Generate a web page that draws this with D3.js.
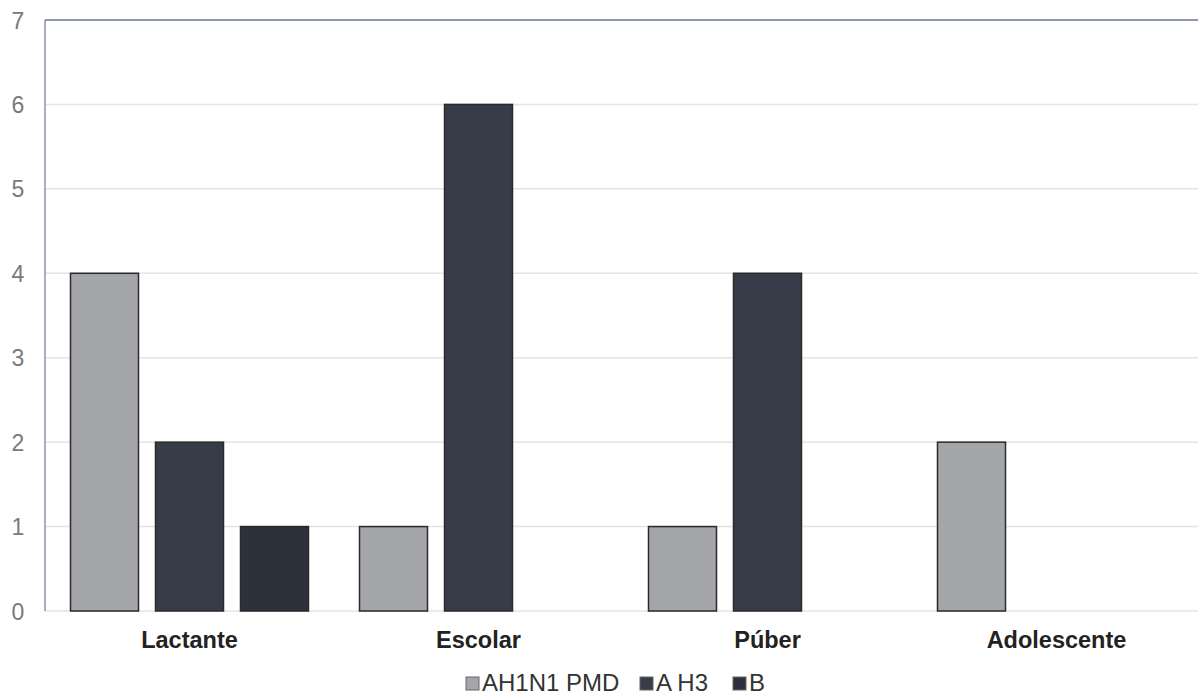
<!DOCTYPE html>
<html><head><meta charset="utf-8">
<script src="https://cdn.jsdelivr.net/npm/d3@7/dist/d3.min.js"></script>
<style>body{margin:0;background:#fff}svg{display:block}</style>
</head><body><svg id="c" width="1198" height="695"></svg>
<script>
const categories = ["Lactante", "Escolar", "Púber", "Adolescente"];
const seriesNames = ["AH1N1 PMD", "A H3", "B"];
const ah1n1 = [4, 1, 1, 2];
const ah3 = [2, 6, 4, 0];
const bVals = [1, 0, 0, 0];
const yTicks = [0, 1, 2, 3, 4, 5, 6, 7];
const colors = ["#a5a6aa", "#373c48", "#2c313b"];

const font = "Liberation Sans, Arial, Helvetica, sans-serif";
const svg = d3.select("#c");
const m = {left: 45, top: 20, right: 1201, bottom: 611};
const x0 = d3.scaleBand().domain(categories).range([m.left, m.right]).paddingInner(0).paddingOuter(0);
const x1 = d3.scaleBand().domain(seriesNames).range([0, x0.bandwidth()]).paddingInner(0.2).paddingOuter(0.3);
const y = d3.scaleLinear().domain([0, 7]).range([m.bottom, m.top]);

// gridlines
svg.append("g").selectAll("line").data(yTicks.filter(t => t < 7)).join("line")
  .attr("x1", m.left).attr("x2", 1198).attr("y1", d => y(d)).attr("y2", d => y(d))
  .attr("stroke", "#e4e4e4").attr("stroke-width", 1.5);

// top border
svg.append("line").attr("x1", m.left).attr("x2", 1198).attr("y1", y(7)).attr("y2", y(7))
  .attr("stroke", "#6b7894").attr("stroke-width", 1.5);
// left axis
svg.append("line").attr("x1", m.left).attr("x2", m.left).attr("y1", y(7)).attr("y2", y(0))
  .attr("stroke", "#6b7894").attr("stroke-width", 1.2);

// y tick labels
const yAxis = d3.axisLeft(y).tickValues(yTicks).tickFormat(d3.format("d")).tickSize(0).tickPadding(0);
const ya = svg.append("g").attr("transform", `translate(18,0)`).call(yAxis);
ya.select(".domain").remove();
ya.selectAll("text").attr("font-family", font)
  .attr("font-size", 23).attr("fill", "#7a7a7a").attr("text-anchor", "middle").attr("dy", "0.35em");

const data = [ah1n1, ah3, bVals];
const groups = svg.append("g");
categories.forEach((c, ci) => {
  seriesNames.forEach((s, si) => {
    const v = data[si][ci];
    if (v <= 0) return;
    groups.append("rect")
      .attr("x", x0(c) + x1(s)).attr("width", x1.bandwidth())
      .attr("y", y(v)).attr("height", y(0) - y(v))
      .attr("fill", colors[si]).attr("stroke", "#2a2a2a").attr("stroke-width", 1.5);
  });
});

// x axis labels
const xAxis = d3.axisBottom(x0).tickSize(0).tickPadding(0);
const xa = svg.append("g").attr("transform", `translate(0,${m.bottom + 37})`).call(xAxis);
xa.select(".domain").remove();
xa.selectAll("text").attr("font-family", font)
  .attr("font-size", 23.5).attr("font-weight", "bold").attr("fill", "#222").attr("dy", 0);

// legend
const legend = svg.append("g").attr("font-family", font).attr("font-size", 24);
const itemX = [466, 640, 733];
seriesNames.forEach((s, i) => {
  const g = legend.append("g").attr("transform", `translate(${itemX[i]},${677})`);
  g.append("rect").attr("x", 0).attr("y", 0).attr("width", 13).attr("height", 13)
    .attr("fill", colors[i]).attr("stroke", "#666").attr("stroke-width", 1);
  g.append("text").attr("x", 16).attr("y", 14).attr("fill", "#333").text(s);
});
</script></body></html>
